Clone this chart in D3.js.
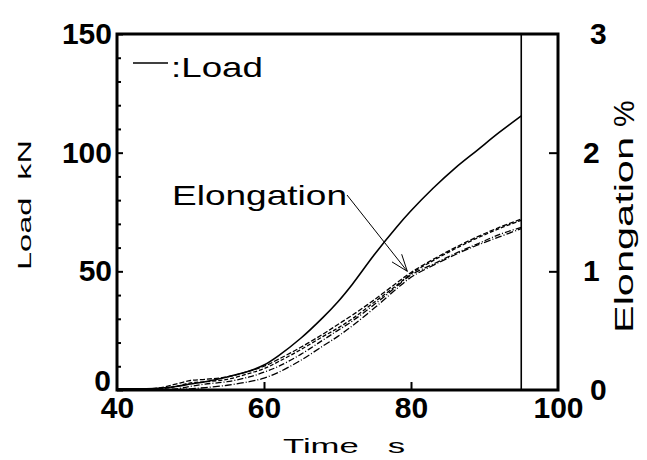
<!DOCTYPE html>
<html><head><meta charset="utf-8">
<script src="https://cdn.jsdelivr.net/npm/d3@7"></script>
<style>body{margin:0;background:#fff} text{white-space:pre}</style>
</head><body><svg id="c" width="647" height="460"></svg>
<script>
const time   = [40,44,46,48,50,52,55,58,60,62,65,68,70,72,75,78,80,83,86,89,92,95];
const load   = [0.5,0.5,0.8,1.5,2.5,3.5,5.5,8,10.5,14.5,21.8,30.5,37,44.5,57,68.5,75.5,85,93.5,101,108.5,115.5];
const elong1 = [0.01,0.01,0.02,0.05,0.08,0.09,0.11,0.16,0.2,0.26,0.36,0.47,0.55,0.63,0.76,0.9,0.99,1.1,1.2,1.29,1.37,1.44];
const elong2 = [0.01,0.01,0.01,0.03,0.06,0.07,0.09,0.14,0.18,0.24,0.34,0.45,0.52,0.6,0.74,0.88,0.98,1.09,1.19,1.28,1.36,1.43];
const elong3 = [0,0,0,0.01,0.03,0.05,0.07,0.11,0.15,0.2,0.3,0.42,0.5,0.58,0.72,0.87,0.97,1.06,1.15,1.23,1.31,1.37];
const elong4 = [0,0,0,0,0.01,0.02,0.04,0.07,0.1,0.15,0.25,0.37,0.45,0.54,0.69,0.85,0.95,1.05,1.14,1.22,1.29,1.36];
const xTicks = [40,60,80,100];
const yLeftTicks = [0,50,100,150];
const yLeftMinor = [10,20,30,40,60,70,80,90,110,120,130,140];
const yRightTicks = [0,1,2,3];
const endTime = 95;
const arrowTarget = {t:79.5, e:1.0};

const svg = d3.select("#c");
const L=117, R=558, T=34, B=390;
const x = d3.scaleLinear().domain([40,100]).range([L,R]);
const yL = d3.scaleLinear().domain([0,150]).range([B,T]);
const yR = d3.scaleLinear().domain([0,3]).range([B,T]);
const font = "'Liberation Sans', Arial, Helvetica, sans-serif";

// curves
const lineL = d3.line().x((d,i)=>x(time[i])).y(d=>yL(d)).curve(d3.curveCatmullRom.alpha(0.5));
const lineR = d3.line().x((d,i)=>x(time[i])).y(d=>yR(d)).curve(d3.curveCatmullRom.alpha(0.5));
const g = svg.append("g");
g.append("path").attr("d",lineL(load)).attr("fill","none").attr("stroke","#000").attr("stroke-width",1.6);
const styles = [
  {d:elong1, dash:"5,2"},
  {d:elong2, dash:"4,2"},
  {d:elong3, dash:"6,2,1,2"},
  {d:elong4, dash:"7,2,1,2"}
];
styles.forEach(s=>{
  g.append("path").attr("d",lineR(s.d)).attr("fill","none").attr("stroke","#000")
   .attr("stroke-width",1.3).attr("stroke-dasharray",s.dash);
});

// vertical line at end of test
g.append("line").attr("x1",x(endTime)).attr("x2",x(endTime)).attr("y1",T).attr("y2",B)
  .attr("stroke","#000").attr("stroke-width",1.6);

// axes
const ax = (sel)=>{sel.select(".domain").remove(); sel.selectAll("line").attr("stroke","#000").attr("stroke-width",2);
  sel.selectAll("text").attr("font-family",font).attr("font-weight","bold").attr("font-size",30).attr("fill","#000");};
const lax = svg.append("g").attr("transform",`translate(${L},0)`)
  .call(d3.axisLeft(yL).tickValues(yLeftTicks).tickSize(-6).tickPadding(5).tickFormat(d3.format("d"))).call(ax);
lax.selectAll(".tick").filter(d=>d===0).select("text").attr("y",-9).attr("x",-6);
svg.append("g").attr("transform",`translate(${L},0)`)
  .call(d3.axisLeft(yL).tickValues(yLeftMinor).tickSize(-4).tickFormat("")).call(ax);
const bax = svg.append("g").attr("transform",`translate(0,${B})`)
  .call(d3.axisBottom(x).tickValues(xTicks).tickSize(-8).tickPadding(7).tickFormat(d3.format("d"))).call(ax);
bax.selectAll(".tick").filter(d=>d===40||d===100).select("line").remove();
const rax = svg.append("g").attr("transform",`translate(${R},0)`)
  .call(d3.axisRight(yR).tickValues(yRightTicks).tickSize(-9).tickPadding(25).tickFormat(d3.format("d"))).call(ax);
rax.selectAll(".tick").filter(d=>d===0||d===3).select("line").remove();
rax.selectAll(".tick").filter(d=>d===0||d===3).select("text").attr("x",32);

// frame
svg.append("rect").attr("x",L).attr("y",T).attr("width",R-L).attr("height",B-T)
  .attr("fill","none").attr("stroke","#000").attr("stroke-width",3);

// axis titles
svg.append("text").attr("transform","translate(31,205) rotate(-90)").attr("text-anchor","middle")
  .attr("font-family",font).attr("font-size",18).attr("textLength",130).attr("lengthAdjust","spacingAndGlyphs")
  .text("Load  kN");
svg.append("text").attr("x",283).attr("y",453)
  .attr("font-family",font).attr("font-size",20).attr("textLength",122).attr("lengthAdjust","spacingAndGlyphs")
  .text("Time   s");
svg.append("text").attr("transform","translate(633,333) rotate(-90)")
  .attr("font-family",font).attr("font-size",25).attr("textLength",196).attr("lengthAdjust","spacingAndGlyphs")
  .text("Elongation");
svg.append("text").attr("transform","translate(634,127) rotate(-90)")
  .attr("font-family",font).attr("font-size",30)
  .text("%");

// legend
svg.append("line").attr("x1",133).attr("x2",168).attr("y1",63).attr("y2",63).attr("stroke","#000").attr("stroke-width",1.5);
svg.append("text").attr("x",171).attr("y",77).attr("font-family",font).attr("font-size",28)
  .attr("textLength",92).attr("lengthAdjust","spacingAndGlyphs").text(":Load");

// annotation
svg.append("text").attr("x",172).attr("y",205).attr("font-family",font).attr("font-size",28)
  .attr("textLength",175).attr("lengthAdjust","spacingAndGlyphs").text("Elongation");
const tx = x(arrowTarget.t), ty = yR(arrowTarget.e);
const sx = 347, sy = 195;
svg.append("line").attr("x1",sx).attr("y1",sy).attr("x2",tx).attr("y2",ty).attr("stroke","#000").attr("stroke-width",1);
const ang = Math.atan2(ty-sy, tx-sx);
[0.35,-0.35].forEach(a=>{
  svg.append("line").attr("x1",tx).attr("y1",ty)
    .attr("x2",tx-18*Math.cos(ang+a)).attr("y2",ty-18*Math.sin(ang+a))
    .attr("stroke","#000").attr("stroke-width",1);
});
</script>
</body></html>
